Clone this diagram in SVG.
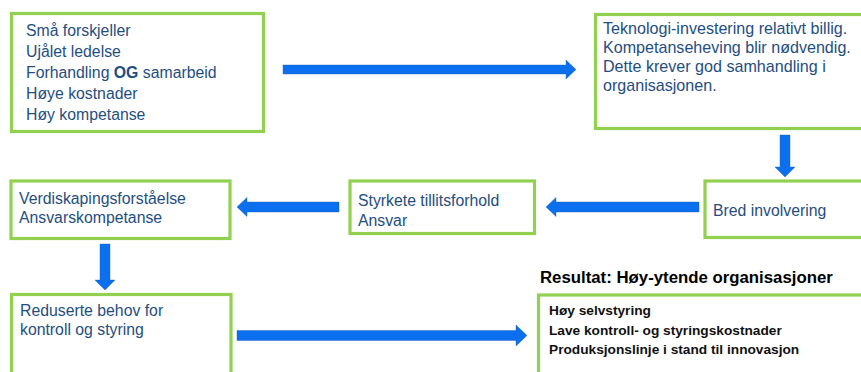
<svg xmlns="http://www.w3.org/2000/svg" width="861" height="372" viewBox="0 0 861 372">
<style>
.box{fill:#fff;stroke:#92D050;stroke-width:3.2}
.t{font-family:"Liberation Sans",Arial,sans-serif;font-size:15.8px;fill:#1F4E80}
.t2{font-size:16.1px}
.r{font-family:"Liberation Sans",Arial,sans-serif;font-size:13.7px;font-weight:bold;fill:#111}
.title{font-family:"Liberation Sans",Arial,sans-serif;font-size:16.8px;font-weight:bold;fill:#000}
.arr{fill:#0B6FEF;stroke:#1f5fae;stroke-width:0.4}
</style>
<rect width="861" height="372" fill="#fff"/>
<g id="connectors">
<polygon class="arr" points="283,65 566,65 566,60 576,69.5 566,79 566,74 283,74"/>
<polygon class="arr" points="780,135 790,135 790,167 795,167 785,177 775,167 780,167"/>
<polygon class="arr" points="699,202 556,202 556,197.5 546,207 556,216.5 556,212 699,212"/>
<polygon class="arr" points="339,202 247,202 247,197.5 237,207 247,216.5 247,212 339,212"/>
<polygon class="arr" points="100,244 110,244 110,280 115,280 105,290 95,280 100,280"/>
<polygon class="arr" points="237,330.5 516,330.5 516,325 527,335.5 516,346 516,340.5 237,340.5"/>
</g>
<g id="n1">
<rect class="box" x="11.5" y="13.5" width="252" height="118"/>
<text class="t" x="26" y="36">Små forskjeller</text>
<text class="t" x="26" y="57">Ujålet ledelse</text>
<text class="t" x="26" y="78">Forhandling <tspan font-weight="bold">OG</tspan> samarbeid</text>
<text class="t" x="26" y="99">Høye kostnader</text>
<text class="t" x="26" y="120">Høy kompetanse</text>
</g>
<g id="n2">
<rect class="box" x="595.5" y="14.5" width="280" height="114"/>
<text class="t t2" x="603" y="34">Teknologi-investering relativt billig.</text>
<text class="t t2" x="603" y="53">Kompetanseheving blir nødvendig.</text>
<text class="t t2" x="603" y="72">Dette krever god samhandling i</text>
<text class="t t2" x="603" y="91">organisasjonen.</text>
</g>
<g id="n3">
<rect class="box" x="705" y="181" width="170" height="56.5"/>
<text class="t" x="713" y="215.5">Bred involvering</text>
</g>
<g id="n4">
<rect class="box" x="350" y="181" width="184.5" height="52.5"/>
<text class="t" x="358" y="206">Styrkete tillitsforhold</text>
<text class="t" x="358" y="226">Ansvar</text>
</g>
<g id="n5">
<rect class="box" x="11" y="181" width="219" height="57.5"/>
<text class="t" x="19" y="204">Verdiskapingsforståelse</text>
<text class="t" x="19" y="223">Ansvarskompetanse</text>
</g>
<g id="n6">
<rect class="box" x="11.5" y="294.5" width="219.5" height="90"/>
<text class="t" x="20" y="316">Reduserte behov for</text>
<text class="t" x="20" y="335">kontroll og styring</text>
</g>
<g id="n7">
<text class="title" x="540" y="283">Resultat: Høy-ytende organisasjoner</text>
<rect class="box" x="538.5" y="295" width="340" height="90"/>
<text class="r" x="549" y="315">Høy selvstyring</text>
<text class="r" x="549" y="335">Lave kontroll- og styringskostnader</text>
<text class="r" x="549" y="354">Produksjonslinje i stand til innovasjon</text>
</g>
</svg>
